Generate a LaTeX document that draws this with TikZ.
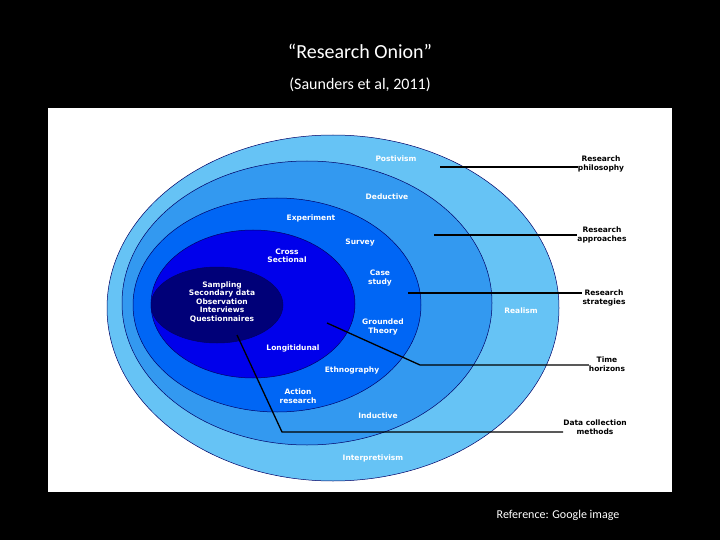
\documentclass[tikz,border=0pt]{standalone}
\usepackage{fontspec}
\setmainfont{Carlito}
\newfontfamily\lab{DejaVu Sans}
\begin{document}
\begin{tikzpicture}[x=1pt,y=-1pt,
  ring/.style={draw=black!60!blue,line width=0.5pt},
  wl/.style={font=\lab\bfseries\fontsize{7.5}{8.5}\selectfont,text=white,align=center,inner sep=0pt},
  bl/.style={font=\lab\bfseries\fontsize{7.5}{8.5}\selectfont,text=black,align=center,inner sep=0pt},
  conn/.style={draw=black,line width=1.3pt}]
\fill[black] (0,0) rectangle (720,540);
\useasboundingbox (0,0) rectangle (720,540);
\fill[white] (48,108) rectangle (672,492);
\node[font=\fontsize{20}{22}\selectfont,text=white] (t) at (360,51) {“Research Onion”};
\node[font=\fontsize{16}{18}\selectfont,text=white] (st) at (360,85) {(Saunders et al, 2011)};
\node[font=\fontsize{12}{14}\selectfont,text=white] (ref) at (558,515) {Reference: Google image};
\fill[ring,fill={rgb,255:red,102;green,195;blue,245}] (333,308) ellipse [x radius=226,y radius=173];
\fill[ring,fill={rgb,255:red,51;green,153;blue,240}] (307,303) ellipse [x radius=185,y radius=142];
\fill[ring,fill={rgb,255:red,0;green,102;blue,245}] (277,305) ellipse [x radius=144,y radius=107];
\fill[ring,fill={rgb,255:red,0;green,0;blue,235}] (253,304) ellipse [x radius=102,y radius=74];
\fill[ring,fill={rgb,255:red,0;green,0;blue,120}] (217,305) ellipse [x radius=66,y radius=38];
\node[wl] (pos) at (396,159) {Postivism};
\node[wl] (ded) at (387,197) {Deductive};
\node[wl] (exp) at (311,218) {Experiment};
\node[wl] (sur) at (360,243) {Survey};
\node[wl] (cs) at (287,256) {Cross\\Sectional};
\node[wl] (case) at (380,278) {Case\\study};
\node[wl] (samp) at (222,302) {Sampling\\Secondary data\\Observation\\Interviews\\Questionnaires};
\node[wl] (real) at (521,311) {Realism};
\node[wl] (gt) at (383,327) {Grounded\\Theory};
\node[wl] (lon) at (293,348) {Longitidunal};
\node[wl] (eth) at (352,370) {Ethnography};
\node[wl] (ar) at (298,396) {Action\\research};
\node[wl] (ind) at (378,416) {Inductive};
\node[wl] (int) at (373,458) {Interpretivism};
\node[bl] (rp) at (601,164) {Research\\philosophy};
\node[bl] (ra) at (602,235) {Research\\approaches};
\node[bl] (rs) at (604,298) {Research\\strategies};
\node[bl] (th) at (607,364) {Time\\horizons};
\node[bl] (dc) at (595,427) {Data collection\\methods};
\coordinate (p1) at (440,167);
\coordinate (p2) at (434,235);
\coordinate (p3) at (408,293);
\coordinate (p4) at (327,323);
\coordinate (p4b) at (420,365);
\coordinate (p5) at (237,335);
\coordinate (p5b) at (282,432);
\draw[conn] (p1) -- (rp.west |- p1);
\draw[conn] (p2) -- (ra.west |- p2);
\draw[conn] (p3) -- (rs.west |- p3);
\draw[conn] (p4) -- (p4b) -- (th.west |- p4b);
\draw[conn] (p5) -- (p5b) -- (dc.west |- p5b);
\end{tikzpicture}
\end{document}
